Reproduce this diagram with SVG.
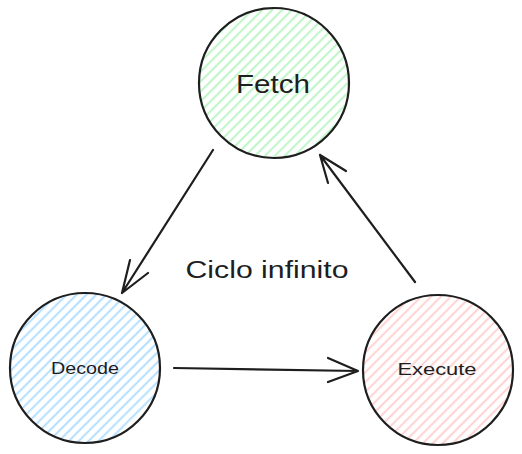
<svg xmlns="http://www.w3.org/2000/svg" width="522" height="454" viewBox="0 0 522 454">
<defs>
<pattern id="hg" patternUnits="userSpaceOnUse" width="7" height="7" patternTransform="rotate(-45)"><line x1="0" y1="3.5" x2="7" y2="3.5" stroke="#b2f2bb" stroke-width="1.7"/></pattern>
<pattern id="hb" patternUnits="userSpaceOnUse" width="7" height="7" patternTransform="rotate(-45)"><line x1="0" y1="3.5" x2="7" y2="3.5" stroke="#a5d8ff" stroke-width="1.7"/></pattern>
<pattern id="hr" patternUnits="userSpaceOnUse" width="7" height="7" patternTransform="rotate(-45)"><line x1="0" y1="3.5" x2="7" y2="3.5" stroke="#ffc9c9" stroke-width="1.7"/></pattern>
</defs>
<style>
.node{stroke:#1e1e1e;stroke-width:2.2}
.lbl{font-family:"Liberation Sans",Arial,sans-serif;fill:#1e1e1e;text-anchor:middle}
.edge{fill:none;stroke:#1e1e1e;stroke-width:2.2;stroke-linecap:round;stroke-linejoin:round}
</style>
<g id="fetch">
<circle class="node" cx="274" cy="83" r="75" fill="url(#hg)"/>
<text class="lbl" x="273" y="93" font-size="25" textLength="74" lengthAdjust="spacingAndGlyphs">Fetch</text>
</g>
<g id="decode">
<circle class="node" cx="85" cy="368" r="75" fill="url(#hb)"/>
<text class="lbl" x="85" y="374" font-size="17" textLength="68" lengthAdjust="spacingAndGlyphs">Decode</text>
</g>
<g id="execute">
<circle class="node" cx="438" cy="370" r="75" fill="url(#hr)"/>
<text class="lbl" x="437" y="375" font-size="17" textLength="79" lengthAdjust="spacingAndGlyphs">Execute</text>
</g>
<g id="connectors">
<path class="edge" d="M213 150 L122 293 M130 260 L122 293 L148 273"/>
<path class="edge" d="M174 368 L358 371 M328 358 L358 371 L328 382"/>
<path class="edge" d="M415 282 L320 155 M346 171 L320 155 L328 183"/>
</g>
<text id="label" class="lbl" x="267" y="278" font-size="23" textLength="163" lengthAdjust="spacingAndGlyphs">Ciclo infinito</text>
</svg>
